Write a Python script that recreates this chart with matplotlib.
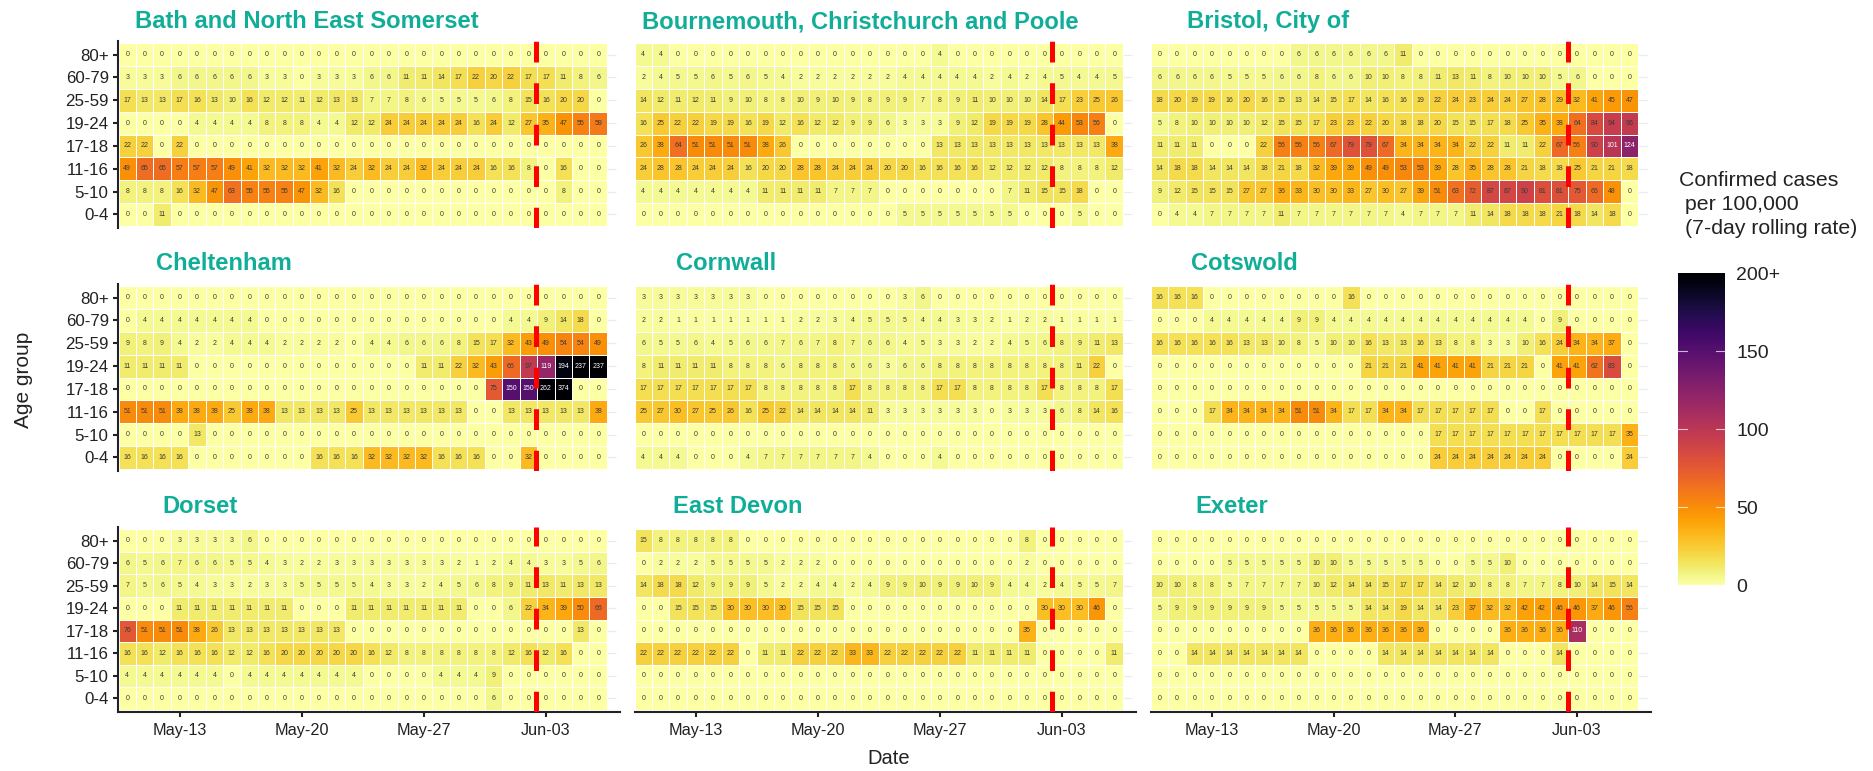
import datetime as dt

import matplotlib
matplotlib.use('Agg')
import matplotlib.pyplot as plt
import matplotlib.dates as mdates
from matplotlib.cm import ScalarMappable
from matplotlib.colors import Normalize
import numpy as np

plt.rcParams['font.family'] = ['Liberation Sans', 'DejaVu Sans']

W, H = 1874, 771

age_groups = ['80+', '60-79', '25-59', '19-24', '17-18', '11-16', '5-10', '0-4']
first_day = dt.date(2021, 5, 10)
tick_days = [dt.date(2021, 5, 13), dt.date(2021, 5, 20), dt.date(2021, 5, 27), dt.date(2021, 6, 3)]
names = ['Bath and North East Somerset', 'Bournemouth, Christchurch and Poole', 'Bristol, City of',
         'Cheltenham', 'Cornwall', 'Cotswold', 'Dorset', 'East Devon', 'Exeter']

# rows run from 80+ down to 0-4, 28 days each
none = [0, 0, 0, 0, 0, 0, 0, 0, 0, 0, 0, 0, 0, 0, 0, 0, 0, 0, 0, 0, 0, 0, 0, 0, 0, 0, 0, 0]

bath = [
    none,
    [3, 3, 3, 6, 6, 6, 6, 6, 3, 3, 0, 3, 3, 3, 6, 6, 11, 11, 14, 17, 22, 20, 22, 17, 17, 11, 8, 6],
    [17, 13, 13, 17, 16, 13, 10, 16, 12, 12, 11, 12, 13, 13, 7, 7, 8, 6, 5, 5, 5, 6, 8, 15, 16, 20, 20, 0],
    [0, 0, 0, 0, 4, 4, 4, 4, 8, 8, 8, 4, 4, 12, 12, 24, 24, 24, 24, 24, 16, 24, 12, 27, 35, 47, 55, 59],
    [22, 22, 0, 22, 0, 0, 0, 0, 0, 0, 0, 0, 0, 0, 0, 0, 0, 0, 0, 0, 0, 0, 0, 0, 0, 0, 0, 0],
    [49, 65, 65, 57, 57, 57, 49, 41, 32, 32, 32, 41, 32, 24, 32, 24, 24, 32, 24, 24, 24, 16, 16, 8, 0, 16, 0, 0],
    [8, 8, 8, 16, 32, 47, 63, 55, 55, 55, 47, 32, 16, 0, 0, 0, 0, 0, 0, 0, 0, 0, 0, 0, 0, 8, 0, 0],
    [0, 0, 11, 0, 0, 0, 0, 0, 0, 0, 0, 0, 0, 0, 0, 0, 0, 0, 0, 0, 0, 0, 0, 0, 0, 0, 0, 0],
]
bcp = [
    [4, 4, 0, 0, 0, 0, 0, 0, 0, 0, 0, 0, 0, 0, 0, 0, 0, 4, 0, 0, 0, 0, 0, 0, 0, 0, 0, 0],
    [2, 4, 5, 5, 6, 5, 6, 5, 4, 2, 2, 2, 2, 2, 2, 4, 4, 4, 4, 4, 2, 4, 2, 4, 5, 4, 4, 5],
    [14, 12, 11, 12, 11, 9, 10, 8, 8, 10, 9, 10, 9, 8, 9, 9, 7, 8, 9, 11, 10, 10, 10, 14, 17, 23, 25, 26],
    [16, 25, 22, 22, 19, 19, 16, 19, 12, 16, 12, 12, 9, 9, 6, 3, 3, 3, 9, 12, 19, 19, 19, 28, 44, 53, 56, 0],
    [26, 38, 64, 51, 51, 51, 51, 38, 26, 0, 0, 0, 0, 0, 0, 0, 0, 13, 13, 13, 13, 13, 13, 13, 13, 13, 13, 38],
    [24, 28, 28, 24, 24, 24, 16, 20, 20, 28, 28, 24, 24, 24, 20, 20, 16, 16, 16, 16, 12, 12, 12, 12, 8, 8, 8, 12],
    [4, 4, 4, 4, 4, 4, 4, 11, 11, 11, 11, 7, 7, 7, 0, 0, 0, 0, 0, 0, 0, 7, 11, 15, 15, 18, 0, 0],
    [0, 0, 0, 0, 0, 0, 0, 0, 0, 0, 0, 0, 0, 0, 0, 5, 5, 5, 5, 5, 5, 5, 0, 0, 0, 5, 0, 0],
]
bristol = [
    [0, 0, 0, 0, 0, 0, 0, 0, 6, 6, 6, 6, 6, 6, 11, 0, 0, 0, 0, 0, 0, 0, 0, 0, 0, 0, 0, 0],
    [6, 6, 6, 6, 5, 5, 5, 6, 6, 8, 6, 6, 10, 10, 8, 8, 11, 13, 11, 8, 10, 10, 10, 5, 6, 0, 0, 0],
    [18, 20, 19, 19, 16, 20, 16, 15, 13, 14, 15, 17, 14, 16, 16, 19, 22, 24, 23, 24, 24, 27, 28, 29, 32, 41, 45, 47],
    [5, 8, 10, 10, 10, 10, 12, 15, 15, 17, 23, 23, 22, 20, 18, 18, 20, 15, 15, 17, 18, 25, 35, 38, 64, 84, 94, 96],
    [11, 11, 11, 0, 0, 0, 22, 56, 56, 56, 67, 79, 79, 67, 34, 34, 34, 34, 22, 22, 11, 11, 22, 67, 56, 90, 101, 124],
    [14, 18, 18, 14, 14, 14, 18, 21, 18, 32, 39, 39, 49, 49, 53, 53, 39, 28, 35, 28, 28, 21, 18, 18, 25, 21, 21, 18],
    [9, 12, 15, 15, 15, 27, 27, 36, 33, 30, 30, 33, 27, 30, 27, 39, 51, 63, 72, 87, 87, 90, 81, 81, 75, 66, 48, 0],
    [0, 4, 4, 7, 7, 7, 7, 11, 7, 7, 7, 7, 7, 7, 4, 7, 7, 7, 11, 14, 18, 18, 18, 21, 18, 14, 18, 0],
]
cheltenham = [
    none,
    [0, 4, 4, 4, 4, 4, 4, 4, 0, 0, 0, 0, 0, 0, 0, 0, 0, 0, 0, 0, 0, 0, 4, 4, 9, 14, 18, 0],
    [9, 8, 9, 4, 2, 2, 4, 4, 4, 2, 2, 2, 2, 0, 4, 4, 6, 6, 6, 8, 15, 17, 32, 43, 49, 54, 54, 49],
    [11, 11, 11, 11, 0, 0, 0, 0, 0, 0, 0, 0, 0, 0, 0, 0, 0, 11, 11, 22, 32, 43, 66, 97, 119, 194, 237, 237],
    [0, 0, 0, 0, 0, 0, 0, 0, 0, 0, 0, 0, 0, 0, 0, 0, 0, 0, 0, 0, 0, 75, 150, 150, 262, 374, 0, 0],
    [51, 51, 51, 38, 38, 38, 25, 38, 38, 13, 13, 13, 13, 25, 13, 13, 13, 13, 13, 13, 0, 0, 13, 13, 13, 13, 13, 38],
    [0, 0, 0, 0, 13, 0, 0, 0, 0, 0, 0, 0, 0, 0, 0, 0, 0, 0, 0, 0, 0, 0, 0, 0, 0, 0, 0, 0],
    [16, 16, 16, 16, 0, 0, 0, 0, 0, 0, 0, 16, 16, 16, 32, 32, 32, 32, 16, 16, 16, 0, 0, 32, 0, 0, 0, 0],
]
cornwall = [
    [3, 3, 3, 3, 3, 3, 3, 0, 0, 0, 0, 0, 0, 0, 0, 3, 6, 0, 0, 0, 0, 0, 0, 0, 0, 0, 0, 0],
    [2, 2, 1, 1, 1, 1, 1, 1, 1, 2, 2, 3, 4, 5, 5, 5, 4, 4, 3, 3, 2, 1, 2, 2, 1, 1, 1, 1],
    [6, 5, 5, 6, 4, 5, 6, 6, 7, 6, 7, 8, 7, 6, 6, 4, 5, 3, 3, 2, 2, 4, 5, 6, 8, 9, 11, 13],
    [8, 11, 11, 11, 11, 8, 8, 8, 6, 8, 8, 8, 6, 6, 3, 6, 6, 8, 8, 8, 8, 8, 8, 8, 8, 11, 22, 0],
    [17, 17, 17, 17, 17, 17, 17, 8, 8, 8, 8, 8, 17, 8, 8, 8, 8, 17, 17, 8, 8, 8, 8, 17, 8, 8, 8, 17],
    [25, 27, 30, 27, 25, 26, 16, 25, 22, 14, 14, 14, 14, 11, 3, 3, 3, 3, 3, 3, 0, 3, 3, 3, 6, 8, 14, 16],
    none,
    [4, 4, 4, 0, 0, 0, 4, 7, 7, 7, 7, 7, 7, 4, 0, 0, 0, 4, 0, 0, 0, 0, 0, 0, 0, 0, 0, 0],
]
cotswold = [
    [16, 16, 16, 0, 0, 0, 0, 0, 0, 0, 0, 16, 0, 0, 0, 0, 0, 0, 0, 0, 0, 0, 0, 0, 0, 0, 0, 0],
    [0, 0, 0, 4, 4, 4, 4, 4, 9, 9, 4, 4, 4, 4, 4, 4, 4, 4, 4, 4, 4, 4, 0, 9, 0, 0, 0, 0],
    [16, 16, 16, 16, 16, 13, 13, 10, 8, 5, 10, 10, 16, 13, 13, 16, 13, 8, 8, 3, 3, 10, 16, 24, 34, 34, 37, 0],
    [0, 0, 0, 0, 0, 0, 0, 0, 0, 0, 0, 0, 21, 21, 21, 41, 41, 41, 41, 21, 21, 21, 0, 41, 41, 62, 83, 0],
    none,
    [0, 0, 0, 17, 34, 34, 34, 34, 51, 51, 34, 17, 17, 34, 34, 17, 17, 17, 17, 17, 0, 0, 17, 0, 0, 0, 0, 0],
    [0, 0, 0, 0, 0, 0, 0, 0, 0, 0, 0, 0, 0, 0, 0, 0, 17, 17, 17, 17, 17, 17, 17, 17, 17, 17, 17, 35],
    [0, 0, 0, 0, 0, 0, 0, 0, 0, 0, 0, 0, 0, 0, 0, 0, 24, 24, 24, 24, 24, 24, 24, 0, 0, 0, 0, 24],
]
dorset = [
    [0, 0, 0, 3, 3, 3, 3, 6, 0, 0, 0, 0, 0, 0, 0, 0, 0, 0, 0, 0, 0, 0, 0, 0, 0, 0, 0, 0],
    [6, 5, 6, 7, 6, 6, 5, 5, 4, 3, 2, 2, 3, 3, 3, 3, 3, 3, 3, 2, 1, 2, 4, 4, 3, 3, 5, 6],
    [7, 5, 6, 5, 4, 3, 3, 2, 3, 3, 5, 5, 5, 5, 4, 3, 3, 2, 4, 5, 6, 8, 9, 11, 13, 11, 13, 13],
    [0, 0, 0, 11, 11, 11, 11, 11, 11, 11, 0, 0, 0, 11, 11, 11, 11, 11, 11, 11, 0, 0, 6, 22, 34, 39, 50, 66],
    [76, 51, 51, 51, 38, 26, 13, 13, 13, 13, 13, 13, 13, 0, 0, 0, 0, 0, 0, 0, 0, 0, 0, 0, 0, 0, 13, 0],
    [16, 16, 12, 16, 16, 16, 12, 12, 16, 20, 20, 20, 20, 20, 16, 12, 8, 8, 8, 8, 8, 8, 12, 16, 12, 16, 0, 0],
    [4, 4, 4, 4, 4, 4, 0, 4, 4, 4, 4, 4, 4, 4, 0, 0, 0, 0, 4, 4, 4, 9, 0, 0, 0, 0, 0, 0],
    [0, 0, 0, 0, 0, 0, 0, 0, 0, 0, 0, 0, 0, 0, 0, 0, 0, 0, 0, 0, 0, 6, 0, 0, 0, 0, 0, 0],
]
east_devon = [
    [15, 8, 8, 8, 8, 8, 0, 0, 0, 0, 0, 0, 0, 0, 0, 0, 0, 0, 0, 0, 0, 0, 8, 0, 0, 0, 0, 0],
    [0, 2, 2, 2, 5, 5, 5, 5, 2, 2, 2, 0, 0, 0, 0, 0, 0, 0, 0, 0, 0, 0, 2, 0, 0, 0, 0, 0],
    [14, 18, 18, 12, 9, 9, 9, 5, 2, 2, 4, 4, 2, 4, 9, 9, 10, 9, 9, 10, 9, 4, 4, 2, 4, 5, 5, 7],
    [0, 0, 15, 15, 15, 30, 30, 30, 30, 15, 15, 15, 0, 0, 0, 0, 0, 0, 0, 0, 0, 0, 0, 30, 30, 30, 46, 0],
    [0, 0, 0, 0, 0, 0, 0, 0, 0, 0, 0, 0, 0, 0, 0, 0, 0, 0, 0, 0, 0, 0, 35, 0, 0, 0, 0, 0],
    [22, 22, 22, 22, 22, 22, 0, 11, 11, 22, 22, 22, 33, 33, 22, 22, 22, 22, 22, 11, 11, 11, 11, 0, 0, 0, 0, 11],
    none,
    none,
]
exeter = [
    none,
    [0, 0, 0, 0, 5, 5, 5, 5, 5, 10, 10, 5, 5, 5, 5, 5, 0, 0, 5, 5, 10, 0, 0, 0, 0, 0, 0, 0],
    [10, 10, 8, 8, 5, 7, 7, 7, 7, 10, 12, 14, 14, 15, 17, 17, 14, 12, 10, 8, 8, 7, 7, 8, 10, 14, 15, 14],
    [5, 9, 9, 9, 9, 9, 9, 5, 5, 5, 5, 5, 14, 14, 19, 14, 14, 23, 37, 32, 32, 42, 42, 46, 46, 37, 46, 56],
    [0, 0, 0, 0, 0, 0, 0, 0, 0, 36, 36, 36, 36, 36, 36, 36, 0, 0, 0, 0, 36, 36, 36, 36, 110, 0, 0, 0],
    [0, 0, 14, 14, 14, 14, 14, 14, 14, 0, 0, 0, 0, 14, 14, 14, 14, 14, 14, 14, 0, 0, 0, 14, 0, 0, 0, 0],
    none,
    none,
]
panels = [bath, bcp, bristol, cheltenham, cornwall, cotswold, dorset, east_devon, exeter]

# pixel boxes of the panels in the figure
lefts = [118.5, 634.5, 1151]
rights = [620, 1136, 1651]
tops = [41, 284, 527]
bottoms = [228, 471, 712]
title_x = [135, 642, 1187, 156, 676, 1191, 162, 673, 1195]
title_y = [28, 270, 513]

BLACK = '#222222'
TEAL = '#10AE98'


def px_box(l, t, r, b):
    return [l / W, 1 - b / H, (r - l) / W, (b - t) / H]


fig = plt.figure(figsize=(W / 100, H / 100), dpi=100, facecolor='white')
norm = Normalize(0, 200)
cmap = plt.get_cmap('inferno_r')
day0 = mdates.date2num(first_day)

for i, (name, rows) in enumerate(zip(names, panels)):
    r, c = divmod(i, 3)
    ax = fig.add_axes(px_box(lefts[c], tops[r], rights[c], bottoms[r]))
    vals = np.array(rows[::-1])
    ny, nx = vals.shape
    ax.hlines(np.arange(ny), day0 - 0.5, day0 + nx, color='#ebebeb', lw=0.9, zorder=0)
    ax.pcolormesh(day0 + np.arange(nx + 1) - 0.5, np.arange(ny + 1) - 0.5, vals, cmap=cmap, norm=norm,
                  edgecolors='white', linewidth=0.5, zorder=1)
    for y in range(ny):
        for x in range(nx):
            v = vals[y, x]
            ax.text(day0 + x, y, str(v), ha='center', va='center', fontsize=5, zorder=2,
                    color='white' if v > 100 else '#3a3a3a')
    # red marker between 2 and 3 June
    ax.axvline(mdates.date2num(dt.date(2021, 6, 2)) + 0.46, color='#FF0000', lw=3.6,
               ls=(0, (4.15, 4.15)), dash_capstyle='butt', zorder=3)

    ax.set_xlim(day0 - 0.5, day0 + 28.25)
    ax.set_ylim(-0.6, 7.6)
    ax.set_yticks(np.arange(ny))
    ax.set_yticklabels(age_groups[::-1])
    ax.set_xticks([mdates.date2num(d) for d in tick_days])
    ax.xaxis.set_major_formatter(mdates.DateFormatter('%b-%d'))
    for s in ax.spines.values():
        s.set_visible(False)
    ax.tick_params(axis='y', length=3.6, width=1.5, color=BLACK, labelcolor=BLACK, labelsize=12.2, pad=3.5,
                   left=c == 0, labelleft=c == 0)
    ax.tick_params(axis='x', length=3.6, width=1.5, color=BLACK, labelcolor=BLACK, labelsize=11.7, pad=4.5,
                   bottom=r == 2, labelbottom=r == 2)
    if c == 0:
        ax.spines['left'].set_visible(True)
        ax.spines['left'].set_linewidth(1.5)
        ax.spines['left'].set_color(BLACK)
    if r == 2:
        ax.spines['bottom'].set_visible(True)
        ax.spines['bottom'].set_linewidth(1.5)
        ax.spines['bottom'].set_color(BLACK)
    ax.patch.set_alpha(0)
    fig.text(title_x[i] / W, 1 - title_y[r] / H, name, color=TEAL, fontsize=17.1, fontweight='bold',
             ha='left', va='baseline')

fig.text(24 / W, 1 - 380 / H, 'Age group', rotation=90, fontsize=15, color=BLACK, ha='center', va='center')
fig.text(889 / W, 1 - 759 / H, 'Date', fontsize=14.5, color=BLACK, ha='center', va='center')

# legend
fig.text(1679 / W, 1 - 181 / H, 'Confirmed cases', fontsize=15.3, color=BLACK, ha='left', va='center')
fig.text(1685 / W, 1 - 205 / H, 'per 100,000', fontsize=15.3, color=BLACK, ha='left', va='center')
fig.text(1685 / W, 1 - 229 / H, '(7-day rolling rate)', fontsize=15.3, color=BLACK, ha='left', va='center')

cax = fig.add_axes(px_box(1678, 273, 1725, 585))
cbar = fig.colorbar(ScalarMappable(norm=norm, cmap=cmap), cax=cax)
cbar.outline.set_visible(False)
cbar.set_ticks([0, 50, 100, 150, 200], labels=['0', '50', '100', '150', '200+'])
cbar.ax.tick_params(length=0, pad=8, labelsize=14, labelcolor=BLACK)
for v in [50, 100, 150]:
    cax.plot([0, 0.2], [v, v], color='white', lw=0.8, alpha=0.7)
    cax.plot([0.8, 1], [v, v], color='white', lw=0.8, alpha=0.7)

fig.savefig('out.png', dpi=100)
